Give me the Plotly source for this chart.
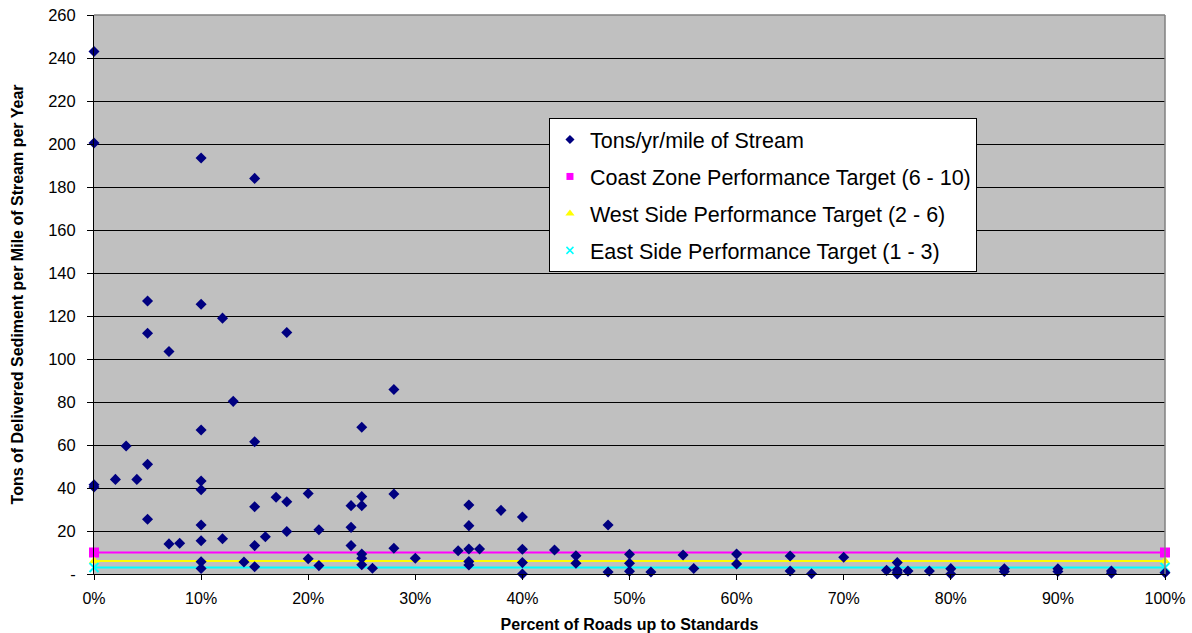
import plotly.graph_objects as go

# Road survey results: percent of roads up to standards vs delivered sediment
pct_roads = [
    0, 0, 0, 0,
    2, 3, 4,
    5, 5, 5, 5,
    7, 7, 8,
    10, 10, 10, 10, 10, 10, 10, 10, 10,
    12, 12, 13, 14,
    15, 15, 15, 15, 15,
    16, 17, 18, 18, 18,
    20, 20, 21, 21,
    24, 24, 24,
    25, 25, 25, 25, 25, 25,
    26, 28, 28, 28, 30, 34,
    35, 35, 35, 35, 35,
    36, 38, 40, 40, 40, 40,
    43, 45, 45, 48, 48,
    50, 50, 50, 52, 55, 56,
    60, 60, 65, 65, 67, 70,
    74, 75, 75, 75, 75, 76, 78,
    80, 80, 85, 85, 90, 90, 95, 95, 100,
]
tons_per_mile = [
    243, 200.5, 41.5, 40.5,
    44, 59.5, 44,
    127, 112, 51, 25.5,
    103.5, 14, 14.3,
    193.5, 125.5, 67, 43.3, 39.2, 22.8, 15.5, 5.7, 2.6,
    119, 16.4, 80.3, 5.6,
    184, 61.5, 31.3, 13.2, 3.4,
    17.3, 35.7, 112.3, 33.6, 19.8,
    37.4, 7.1, 20.6, 3.9,
    31.8, 21.7, 13.2,
    68.3, 36, 31.8, 9.3, 7.3, 4.3,
    2.7, 85.8, 37.2, 12, 7.3, 10.8,
    32.1, 22.5, 11.6, 5.8, 4.2,
    11.6, 29.6, 26.5, 11.5, 5.3, 0,
    11.2, 8.5, 5, 22.8, 0.9,
    9.2, 5, 1.3, 0.9, 8.8, 2.6,
    9.3, 4.7, 8.4, 1.4, 0.1, 7.8,
    1.7, 5.3, 1.9, 0.8, 0, 1.4, 1.4,
    2.5, 0, 2.4, 1.2, 2.4, 1.2, 1.4, 0.4, 0.6,
]

# Performance targets (upper end of each range), drawn across the full axis
target_x = [0, 100]
coast_target = [10, 10]
west_target = [6, 6]
east_target = [3, 3]

series_names = [
    "Tons/yr/mile of Stream",
    "Coast Zone Performance Target (6 - 10)",
    "West Side Performance Target (2 - 6)",
    "East Side Performance Target (1 - 3)",
]

y_ticks = list(range(0, 261, 20))
y_tick_text = ["-"] + [str(v) for v in y_ticks[1:]]
x_ticks = list(range(0, 101, 10))
x_tick_text = [f"{v}%" for v in x_ticks]

NAVY = "#000080"
MAGENTA = "#FF00FF"
YELLOW = "#FFFF00"
CYAN = "#00FFFF"
FONT = "Liberation Sans, Arial, sans-serif"

fig = go.Figure()

# target lines (legend entries are added separately as marker-only items)
fig.add_trace(go.Scatter(
    x=target_x, y=coast_target, mode="lines+markers", showlegend=False,
    line=dict(color=MAGENTA, width=2),
    marker=dict(symbol="square", size=10, color=MAGENTA),
    cliponaxis=False, hoverinfo="skip"))
fig.add_trace(go.Scatter(
    x=target_x, y=west_target, mode="lines+markers", showlegend=False,
    line=dict(color=YELLOW, width=2),
    marker=dict(symbol="triangle-up", size=9, color=YELLOW),
    cliponaxis=False, hoverinfo="skip"))
fig.add_trace(go.Scatter(
    x=target_x, y=east_target, mode="lines+markers", showlegend=False,
    line=dict(color=CYAN, width=2),
    marker=dict(symbol="x-thin", size=9, color=CYAN, line=dict(color=CYAN, width=2)),
    cliponaxis=False, hoverinfo="skip"))

# watershed observations
fig.add_trace(go.Scatter(
    x=pct_roads, y=tons_per_mile, mode="markers", showlegend=False,
    marker=dict(symbol="diamond", size=8.5, color=NAVY),
    cliponaxis=False))

# legend items
legend_styles = [
    dict(symbol="diamond", size=7, color=NAVY),
    dict(symbol="square", size=7, color=MAGENTA),
    dict(symbol="triangle-up", size=8, color=YELLOW),
    dict(symbol="x-thin", size=7, color=CYAN, line=dict(color=CYAN, width=1.5)),
]
for i, (name, mk) in enumerate(zip(series_names, legend_styles)):
    fig.add_trace(go.Scatter(
        x=[None], y=[None], mode="markers", name=name, marker=mk,
        legendgroup=f"g{i}", showlegend=True))

# gray frame on the top and right edges of the plot area
fig.add_shape(type="line", xref="paper", yref="paper", x0=0, x1=1, y0=1, y1=1,
              line=dict(color="#808080", width=1.5), layer="above")
fig.add_shape(type="line", xref="paper", yref="paper", x0=1, x1=1, y0=0, y1=1,
              line=dict(color="#808080", width=1.5), layer="above")

# vertical axis title
fig.add_annotation(
    text="<b>Tons of Delivered Sediment per Mile of Stream per Year</b>",
    xref="paper", yref="paper", x=-0.071, y=0.5,
    xanchor="center", yanchor="middle", textangle=-90, showarrow=False,
    font=dict(family=FONT, size=16, color="black"))

fig.update_layout(
    width=1192, height=633,
    margin=dict(l=94, r=27, t=15, b=59, autoexpand=False),
    paper_bgcolor="white",
    plot_bgcolor="#C0C0C0",
    font=dict(family=FONT, size=15, color="black"),
    legend=dict(
        x=0.4248, y=0.8157, xanchor="left", yanchor="top",
        bgcolor="white", bordercolor="black", borderwidth=1,
        font=dict(size=21.5, color="black"),
        traceorder="grouped", tracegroupgap=6,
        itemwidth=30,
    ),
    xaxis=dict(
        range=[0, 100], tickvals=x_ticks, ticktext=x_tick_text,
        showgrid=False, zeroline=False, automargin=False,
        showline=True, linecolor="black", linewidth=1,
        ticks="outside", ticklen=5, tickcolor="black",
        tickfont=dict(size=16), ticklabelstandoff=5,
        title=dict(text="<b>Percent of Roads up to Standards</b>",
                   font=dict(size=16), standoff=12),
    ),
    yaxis=dict(
        range=[0, 260], tickvals=y_ticks, ticktext=y_tick_text,
        showgrid=True, gridcolor="black", gridwidth=1,
        zeroline=False, automargin=False,
        showline=True, linecolor="black", linewidth=1,
        ticks="outside", ticklen=6, tickcolor="black",
        tickfont=dict(size=16.5), ticklabelstandoff=8,
    ),
)

fig.write_html("out.html")
